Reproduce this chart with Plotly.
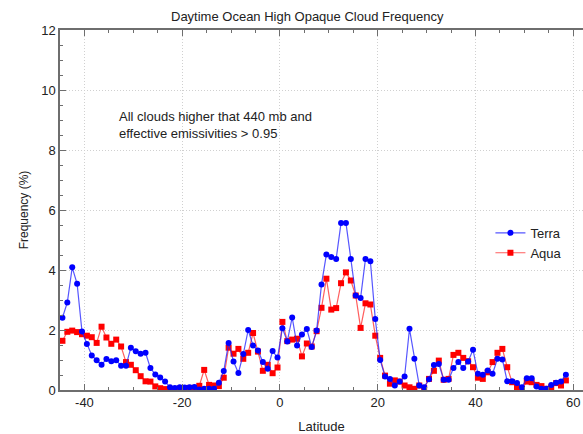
import numpy as np
import plotly.graph_objects as go

# Latitude bin centres (1-degree bins)
latitude = np.arange(-44.5, 59.0, 1.0)

terra = [
    2.41, 2.92, 4.09, 3.54, 1.95, 1.53, 1.15, 0.99, 0.84, 1.03,
    0.96, 0.99, 0.81, 0.81, 1.41, 1.29, 1.21, 1.24, 0.73, 0.52,
    0.42, 0.28, 0.09, 0.07, 0.09, 0.08, 0.09, 0.10, 0.02, 0.04,
    0.04, 0.04, 0.24, 0.63, 1.57, 0.95, 0.57, 1.20, 2.00, 1.48,
    1.32, 0.93, 0.71, 1.30, 1.08, 2.06, 1.62, 2.42, 1.48, 1.85,
    2.03, 1.43, 1.98, 3.52, 4.52, 4.43, 4.37, 5.57, 5.57, 4.37,
    3.15, 3.07, 4.37, 4.29, 2.37, 1.00, 0.45, 0.37, 0.15, 0.28,
    0.45, 2.04, 1.04, 0.15, 0.09, 0.36, 0.83, 0.87, 0.34, 0.34,
    0.73, 0.93, 0.73, 0.95, 1.34, 0.54, 0.51, 0.65, 0.54, 1.04,
    1.02, 0.29, 0.29, 0.23, 0.09, 0.39, 0.39, 0.12, 0.04, 0.04,
    0.17, 0.24, 0.28, 0.51,
]

aqua = [
    1.64, 1.94, 1.98, 1.93, 1.86, 1.81, 1.76, 1.57, 2.11, 1.75,
    1.54, 1.68, 1.45, 0.93, 0.84, 0.66, 0.46, 0.29, 0.28, 0.12,
    0.06, 0.03, 0.03, 0.03, 0.05, 0.06, 0.07, 0.07, 0.14, 0.67,
    0.17, 0.15, 0.13, 0.41, 1.41, 1.21, 1.37, 1.04, 1.24, 1.90,
    1.28, 0.64, 0.84, 0.56, 0.75, 2.27, 1.63, 1.68, 1.71, 1.12,
    1.55, 1.45, 1.96, 2.74, 3.71, 2.68, 2.73, 3.56, 3.92, 3.65,
    3.15, 2.07, 2.89, 2.85, 1.81, 1.07, 0.48, 0.21, 0.32, 0.28,
    0.15, 0.09, 0.04, 0.15, 0.07, 0.37, 0.64, 0.98, 0.34, 0.37,
    1.17, 1.24, 1.07, 0.96, 0.76, 0.41, 0.37, 0.59, 0.93, 1.24,
    1.37, 0.76, 0.26, 0.09, 0.04, 0.28, 0.26, 0.17, 0.13, 0.04,
    0.09, 0.23, 0.15, 0.32,
]

x_ticks = [-40, -20, 0, 20, 40, 60]
y_ticks = [0, 2, 4, 6, 8, 10, 12]

FONT = "Liberation Sans, Arial, sans-serif"
TXT = "#222222"
AXIS = "#6e6e6e"
GRID = "#d0d0d0"

fig = go.Figure()
fig.add_trace(go.Scatter(
    x=latitude, y=aqua, name="Aqua", mode="lines+markers",
    line=dict(color="rgba(255,40,40,0.75)", width=1.2),
    marker=dict(symbol="square", size=6, color="#ff0000"),
))
fig.add_trace(go.Scatter(
    x=latitude, y=terra, name="Terra", mode="lines+markers",
    line=dict(color="rgba(30,30,255,0.75)", width=1.2),
    marker=dict(symbol="circle", size=6, color="#0000ff"),
))

fig.update_layout(
    width=583, height=434,
    margin=dict(l=60, r=0, t=30, b=44),
    paper_bgcolor="white", plot_bgcolor="white",
    font=dict(family=FONT, size=12, color=TXT),
    showlegend=True,
    legend=dict(
        x=0.823, y=0.478, xanchor="left", yanchor="top",
        bgcolor="rgba(0,0,0,0)", traceorder="reversed",
        font=dict(size=13, color=TXT), itemwidth=30,
        tracegroupgap=0,
    ),
)

fig.update_xaxes(
    range=[-45, 62], tickvals=x_ticks, ticktext=[str(v) for v in x_ticks],
    ticks="inside", ticklen=6, tickcolor=AXIS,
    minor=dict(dtick=5, ticks="inside", ticklen=3, tickcolor=AXIS, showgrid=False),
    showline=True, linecolor=AXIS, linewidth=1.5, mirror="ticks",
    showgrid=True, gridcolor=GRID, griddash="1px,2px", gridwidth=1,
    zeroline=False, tickfont=dict(size=13, color=TXT),
    title=dict(text="Latitude", font=dict(size=13, color=TXT), standoff=14),
)
fig.update_yaxes(
    range=[0, 12], tickvals=y_ticks, ticktext=[str(v) for v in y_ticks],
    ticks="inside", ticklen=6, tickcolor=AXIS,
    minor=dict(dtick=0.5, ticks="inside", ticklen=3, tickcolor=AXIS, showgrid=False),
    showline=True, linecolor=AXIS, linewidth=1.5,
    showgrid=True, gridcolor=GRID, griddash="1px,2px", gridwidth=1,
    zeroline=False, tickfont=dict(size=13, color=TXT),
    title=dict(text="Frequency (%)", font=dict(size=12, color=TXT), standoff=10),
)

fig.add_annotation(
    text="Daytime Ocean High Opaque Cloud Frequency",
    xref="paper", yref="paper", x=0.474, y=1.0, yshift=14,
    xanchor="center", yanchor="middle", showarrow=False,
    font=dict(size=13, color=TXT),
)
fig.add_annotation(
    text="All clouds higher that 440 mb and<br>effective emissivities > 0.95",
    xref="x", yref="y", x=-33.3, y=8.85,
    xanchor="left", yanchor="middle", align="left", showarrow=False,
    font=dict(size=13, color=TXT),
)

fig.write_html("out.html")
